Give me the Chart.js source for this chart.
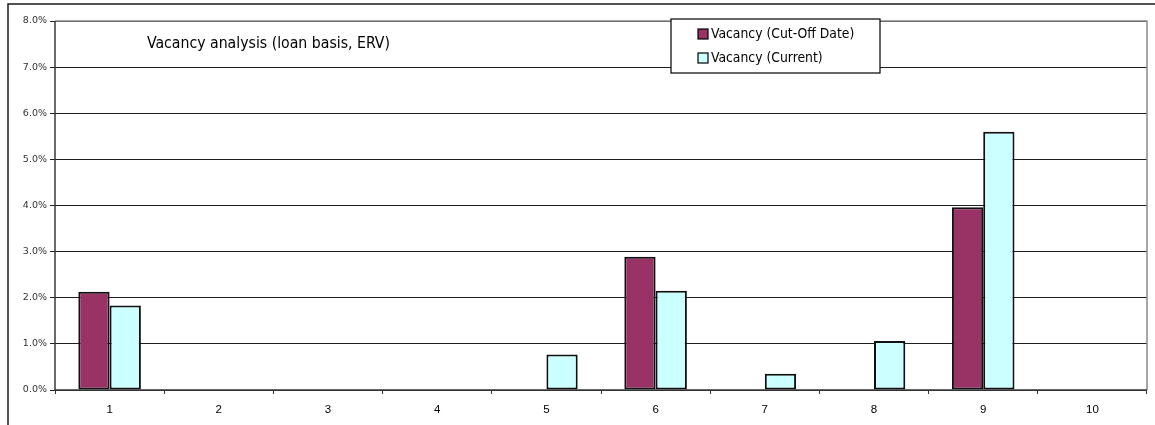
<!DOCTYPE html>
<html>
<head>
<meta charset="utf-8">
<title>Vacancy analysis (loan basis, ERV)</title>
<script src="https://cdn.jsdelivr.net/npm/chart.js@4/dist/chart.umd.min.js"></script>
<style>
  html, body { margin: 0; padding: 0; background: #fff; }
  #wrap { position: relative; width: 1155px; height: 425px; }
</style>
</head>
<body>
<div id="wrap"><canvas id="c" width="1155" height="425"></canvas></div>
<script>
// Loan numbers on the category axis
const categories = ['1', '2', '3', '4', '5', '6', '7', '8', '9', '10'];
// Vacancy rates as fractions (null = no vacancy reported)
const vacancyCutOff = [0.0213, null, null, null, null, 0.0289, null, null, 0.0396, null];
const vacancyCurrent = [0.0183, null, null, null, 0.0077, 0.0215, 0.0035, 0.0106, 0.0560, null];
const seriesNames = ['Vacancy (Cut-Off Date)', 'Vacancy (Current)'];
const chartTitle = 'Vacancy analysis (loan basis, ERV)';
const yTicks = [0, 0.01, 0.02, 0.03, 0.04, 0.05, 0.06, 0.07, 0.08];

const colors = ['#993366', '#CCFFFF'];
const textFont = '"DejaVu Sans Condensed", "DejaVu Sans", sans-serif';

// Outer frame, plot-area border, title and boxed legend
const decorPlugin = {
  id: 'decor',
  beforeDraw(chart) {
    const ctx = chart.ctx;
    ctx.save();
    ctx.fillStyle = '#fff';
    ctx.fillRect(0, 0, chart.width, chart.height);
    ctx.strokeStyle = '#1a1a1a';
    ctx.lineWidth = 1.5;
    ctx.beginPath();
    ctx.moveTo(8, chart.height);
    ctx.lineTo(8, 4);
    ctx.lineTo(chart.width, 4);
    ctx.stroke();
    ctx.restore();
  },
  afterDatasetsDraw(chart) {
    const ctx = chart.ctx;
    const a = chart.chartArea;
    ctx.save();
    // plot area border (top and right)
    ctx.strokeStyle = '#8a8a8a';
    ctx.lineWidth = 1.5;
    ctx.beginPath();
    ctx.moveTo(a.left, a.top);
    ctx.lineTo(a.right, a.top);
    ctx.lineTo(a.right, a.bottom);
    ctx.stroke();
    // axis lines
    ctx.strokeStyle = '#3a3a3a';
    ctx.lineWidth = 1.5;
    ctx.beginPath();
    ctx.moveTo(a.left, a.top);
    ctx.lineTo(a.left, a.bottom);
    ctx.lineTo(a.right, a.bottom);
    ctx.stroke();

    // title text
    ctx.fillStyle = '#000';
    ctx.font = '15.7px ' + textFont;
    ctx.textBaseline = 'middle';
    ctx.textAlign = 'left';
    ctx.fillText(chartTitle, 147, 44);

    // legend box
    const lx = 671, ly = 19, lw = 209, lh = 54;
    ctx.fillStyle = '#fff';
    ctx.fillRect(lx, ly, lw, lh);
    ctx.strokeStyle = '#000';
    ctx.lineWidth = 1.2;
    ctx.strokeRect(lx, ly, lw, lh);
    const rows = [34, 58];
    chart.data.datasets.forEach((ds, i) => {
      const y = rows[i];
      ctx.fillStyle = ds.backgroundColor;
      ctx.fillRect(698, y - 5, 10, 10);
      ctx.strokeStyle = '#000';
      ctx.lineWidth = 1.2;
      ctx.strokeRect(698, y - 5, 10, 10);
      ctx.fillStyle = '#000';
      ctx.font = '13.8px ' + textFont;
      ctx.fillText(ds.label, 711, y);
    });
    ctx.restore();
  }
};

new Chart(document.getElementById('c'), {
  type: 'bar',
  data: {
    labels: categories,
    datasets: [
      { label: seriesNames[0], data: vacancyCutOff, backgroundColor: colors[0],
        borderColor: '#111', borderWidth: 2, borderSkipped: false },
      { label: seriesNames[1], data: vacancyCurrent, backgroundColor: colors[1],
        borderColor: '#111', borderWidth: 2, borderSkipped: false }
    ]
  },
  options: {
    responsive: false,
    animation: false,
    devicePixelRatio: 1,
    layout: { padding: { top: 21, right: 8, left: 0, bottom: 0 } },
    datasets: { bar: { categoryPercentage: 0.573, barPercentage: 1.0 } },
    plugins: {
      legend: { display: false },
      title: { display: false },
      tooltip: { enabled: false }
    },
    scales: {
      x: {
        offset: true,
        border: { display: false },
        grid: { offset: true, drawOnChartArea: false, drawTicks: true, tickLength: 4, color: '#333', lineWidth: 1 },
        ticks: { color: '#000', font: { family: '"Liberation Sans", Arial, sans-serif', size: 11.5 }, padding: 9, maxRotation: 0 },
        afterFit(scale) { scale.height = 35; }
      },
      y: {
        min: 0, max: 0.08,
        border: { display: false },
        afterBuildTicks(scale) { scale.ticks = yTicks.map(v => ({ value: v })); },
        grid: { color: '#1e1e1e', lineWidth: 1, drawTicks: true, tickLength: 5 },
        ticks: {
          color: '#333',
          font: { family: '"DejaVu Sans", Verdana, sans-serif', size: 9.5 },
          padding: 3,
          callback: v => (v * 100).toFixed(1) + '%'
        },
        afterFit(scale) { scale.width = 55; }
      }
    }
  },
  plugins: [decorPlugin]
});
</script>
</body>
</html>
